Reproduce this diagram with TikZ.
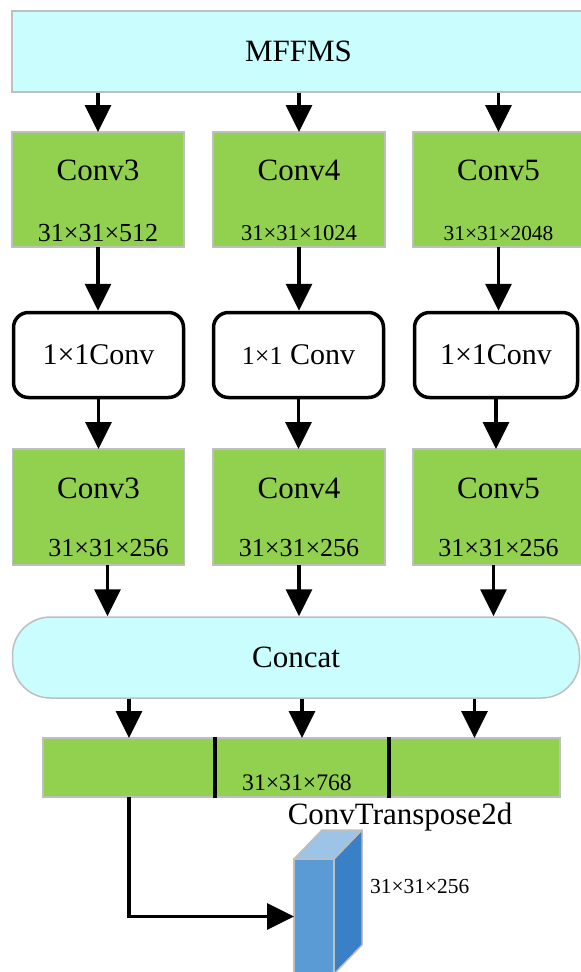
\documentclass[tikz,border=0pt]{standalone}
\usepackage{fontspec}
\setmainfont{Liberation Serif}
\usetikzlibrary{arrows.meta, positioning}
\definecolor{mycyan}{HTML}{C9FDFE}
\definecolor{mygreen}{HTML}{92D050}
\definecolor{mygray}{HTML}{BFBFBF}
\definecolor{blockfront}{HTML}{5B9BD5}
\definecolor{blockside}{HTML}{3A80C6}
\definecolor{blocktop}{HTML}{9DC3E6}

\begin{document}
\begin{tikzpicture}[x=1pt, y=-1pt, >={Triangle[width=26pt,length=27pt]},
  greenbox/.style={draw=mygray, line width=1.5pt, fill=mygreen, minimum width=172pt, minimum height=115pt, inner sep=0pt, outer sep=0pt},
  cyanbox/.style={draw=mygray, line width=1.5pt, fill=mycyan, minimum height=81pt, inner sep=0pt},
  onebox/.style={draw, line width=3.5pt, rounded corners=15pt, minimum height=85pt, inner sep=0pt, font=\fontsize{30}{36}\selectfont},
  titletxt/.style={font=\fontsize{31}{36}\selectfont},
  dimtxt/.style={font=\fontsize{#1}{#1}\selectfont, inner sep=0pt},
  arr/.style={->, line width=3.5pt},
  divider/.style={line width=3.5pt}]
\def\rowA{189.5}
\def\rowB{355}
\def\rowC{507}

\path[use as bounding box] (0,0) rectangle (581,972);
\clip (0,0) rectangle (581,972);

%Input
\node (mffms) at (298.5,51.5) [cyanbox, minimum width=573pt, titletxt] {MFFMS};

%Backbone features
\node (conva3) at (98,\rowA) [greenbox] {};
\node (conva4) at (299,\rowA) [greenbox] {};
\node (conva5) at (498.5,\rowA) [greenbox, minimum width=171pt] {};
\node (conva3t) at ([yshift=-38pt]conva3.north) [titletxt] {Conv3};
\node (conva4t) at ([yshift=-38pt]conva4.north) [titletxt] {Conv4};
\node (conva5t) at ([yshift=-38pt]conva5.north) [titletxt] {Conv5};
\node (conva3d) at ([yshift=14pt]conva3.south) [dimtxt=26] {31×31×512};
\node (conva4d) at ([yshift=14pt]conva4.south) [dimtxt=22.6] {31×31×1024};
\node (conva5d) at ([yshift=14pt]conva5.south) [dimtxt=21.4] {31×31×2048};

%1x1 convolutions
\node (one3) at (98.5,\rowB) [onebox, minimum width=170pt] {1×1Conv};
\node (one4) at (298.5,\rowB) [onebox, minimum width=170pt] {{\fontsize{26}{30}\selectfont 1×1} Conv};
\node (one5) at (496,\rowB) [onebox, minimum width=163pt] {1×1Conv};

%Reduced features
\node (convb3) at (98.5,\rowC) [greenbox, minimum height=116pt] {};
\node (convb4) at (299,\rowC) [greenbox, minimum height=116pt] {};
\node (convb5) at (498.5,\rowC) [greenbox, minimum height=116pt, minimum width=171pt] {};
\node (convb3t) at ([yshift=-39pt]convb3.north) [titletxt] {Conv3};
\node (convb4t) at ([yshift=-39pt]convb4.north) [titletxt] {Conv4};
\node (convb5t) at ([yshift=-39pt]convb5.north) [titletxt] {Conv5};
\node (convb3d) at ([xshift=10pt, yshift=17pt]convb3.south) [dimtxt=26] {31×31×256};
\node (convb4d) at ([yshift=17pt]convb4.south) [dimtxt=26] {31×31×256};
\node (convb5d) at ([yshift=17pt]convb5.south) [dimtxt=26] {31×31×256};

%Concat
\node (concat) at (296,657.5) [cyanbox, minimum width=567pt, rounded corners=38pt, titletxt] {Concat};

%Concatenated tensor
\node (bar1) at (129,767.5) [greenbox, minimum height=59pt] {};
\node (bar2) [greenbox, right=0pt of bar1, minimum width=174pt, minimum height=59pt] {};
\node (bar3) [greenbox, right=0pt of bar2, minimum width=171pt, minimum height=59pt] {};
\draw[divider] ([yshift=1pt]bar1.north east) -- ([yshift=-1pt]bar1.south east);
\draw[divider] ([yshift=1pt]bar2.north east) -- ([yshift=-1pt]bar2.south east);
\node (bar2d) at ([xshift=-5pt, yshift=14pt]bar2.south) [dimtxt=23.7] {31×31×768};

%Output block
\node (ctfront) at (314,916.5) [fill=blockfront, draw=mygray, line width=1.5pt, minimum width=40pt, minimum height=115pt, inner sep=0pt, outer sep=0pt] {};
\draw[fill=blocktop, draw=mygray, line width=1.5pt, line join=round] (ctfront.north west) -- ++(28,-29) -- ++(40,0) -- (ctfront.north east) -- cycle;
\draw[fill=blockside, draw=mygray, line width=1.5pt, line join=round] (ctfront.north east) -- ++(28,-29) -- ++(0,115) -- (ctfront.south east) -- cycle;
\node (ctlabel) at (400,817) [titletxt] {ConvTranspose2d};
\node (ctdim) at (370,887) [dimtxt=21.4, anchor=west] {31×31×256};

%Arrows
\draw[arr] (mffms.south -| conva3) -- (conva3.north);
\draw[arr] (mffms.south -| conva4) -- (conva4.north);
\draw[arr] (mffms.south -| conva5) -- (conva5.north);

\draw[arr] (conva3.south) -- (conva3.south |- one3.north);
\draw[arr] (conva4.south) -- (conva4.south |- one4.north);
\draw[arr] (conva5.south) -- (conva5.south |- one5.north);

\draw[arr] (one3.south) -- (one3.south |- convb3.north);
\draw[arr] (one4.south) -- (one4.south |- convb4.north);
\draw[arr] (one5.south) -- (one5.south |- convb5.north);

\draw[arr] ([xshift=9pt]convb3.south) -- ([xshift=9pt]convb3.south |- concat.north);
\draw[arr] (convb4.south) -- (convb4.south |- concat.north);
\draw[arr] ([xshift=-5pt]convb5.south) -- ([xshift=-5pt]convb5.south |- concat.north);

\draw[arr] (concat.south -| bar1) -- (bar1.north);
\draw[arr] (concat.south -| bar2) -- (bar2.north);
\draw[arr] (concat.south -| bar3) -- (bar3.north);

\draw[arr] (bar1.south) |- (ctfront.west);

\end{tikzpicture}
\end{document}
